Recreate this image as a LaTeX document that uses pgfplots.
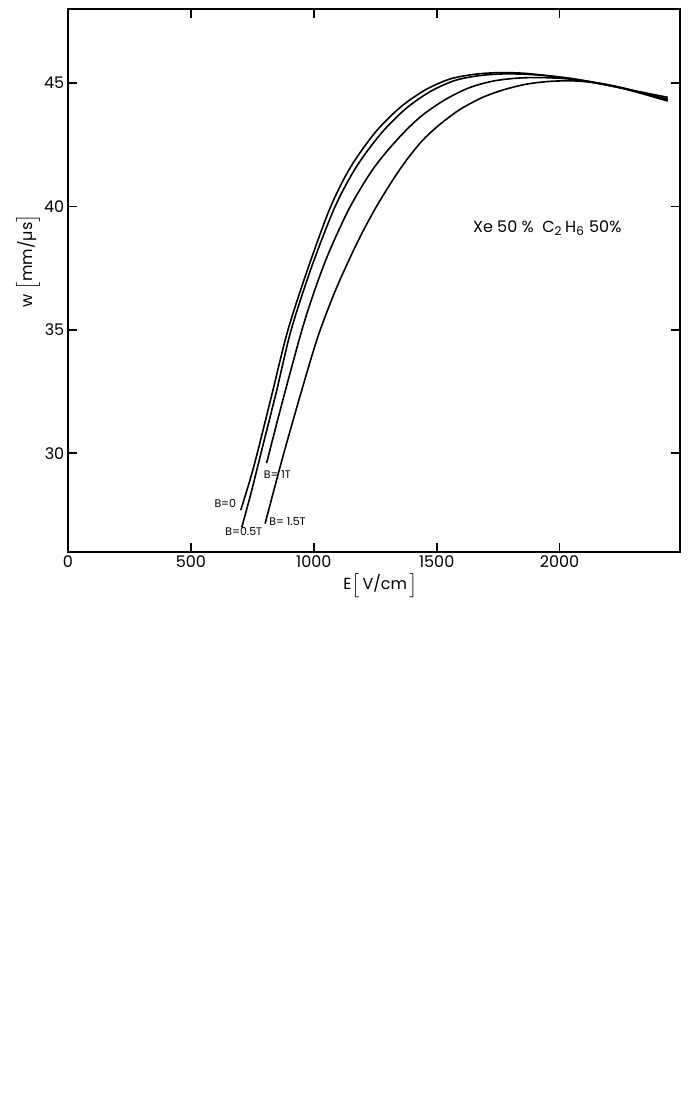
\documentclass[border=0pt]{standalone}
\usepackage{fontspec}
\setmainfont{Poppins}
\usepackage{pgfplots}
\pgfplotsset{compat=1.18}
\begin{document}
\fontsize{8}{9.6}\selectfont%
\begin{tikzpicture}
\useasboundingbox (0pt,0pt) rectangle (343.5pt,554.5pt);
\begin{axis}[
 at={(34pt,278.5pt)}, anchor=south west,
 scale only axis, width=306pt, height=271.5pt,
 xmin=0, xmax=2490, ymin=26, ymax=48,
 xtick={0,500,1000,1500,2000}, ytick={30,35,40,45},
 tick align=inside, major tick length=4.5pt,
 axis line style={line width=1pt}, tick style={line width=0.9pt, black},
 /pgf/number format/assume math mode=true,
 /pgf/number format/1000 sep={},
 ticklabel style={font=\fontsize{8}{9.6}\selectfont},
 xticklabel style={yshift=1pt},
 yticklabel style={xshift=1pt},
 xlabel={E$\big[$\,V/cm\,$\big]$},
 ylabel={w $\big[$mm/µs$\big]$},
 xlabel style={at={(axis description cs:0.511,-0.061)},anchor=center},
 ylabel style={at={(axis description cs:-0.066,0.536)},anchor=center},
 cycle list={{black}},
 every axis plot/.append style={line width=0.8pt, smooth, mark=none},
]
% B = 0
\addplot coordinates {(703,27.7) (740,28.9) (770,30.0) (830,32.4) (895,35.0) (980,37.6) (1069,40.0) (1150,41.6) (1250,43.0) (1350,44.0) (1450,44.7) (1550,45.15) (1650,45.35) (1750,45.42) (1850,45.4) (1950,45.3) (2050,45.18) (2150,45.0) (2250,44.8) (2350,44.6) (2440,44.42)};
% B = 0.5 T
\addplot coordinates {(707,27.0) (745,28.4) (785,30.0) (848,32.5) (908,35.0) (993,37.6) (1087,40.0) (1173,41.6) (1273,42.95) (1373,43.95) (1473,44.65) (1573,45.1) (1673,45.3) (1773,45.37) (1873,45.35) (1973,45.27) (2073,45.14) (2150,45.0) (2250,44.8) (2350,44.56) (2440,44.35)};
% B = 1 T
\addplot coordinates {(808,29.6) (870,32.0) (949,34.9) (1000,36.5) (1060,38.1) (1146,39.95) (1240,41.5) (1334,42.65) (1430,43.6) (1530,44.3) (1630,44.8) (1730,45.08) (1830,45.2) (1930,45.22) (2030,45.17) (2130,45.05) (2250,44.82) (2350,44.56) (2440,44.32)};
% B = 1.5 T
\addplot coordinates {(802,27.15) (878,30.0) (967,33.1) (1021,34.85) (1080,36.4) (1128,37.5) (1190,38.8) (1254,39.98) (1320,41.05) (1379,41.9) (1440,42.65) (1504,43.25) (1590,43.9) (1683,44.4) (1770,44.72) (1863,44.95) (1950,45.06) (2030,45.09) (2100,45.06) (2200,44.92) (2300,44.67) (2440,44.27)};
\node[font=\fontsize{8}{9.6}\selectfont] at (axis cs:1950,39.13) {Xe 50 \%\ \ C\textsubscript{2}\,H\textsubscript{6} 50\%};
\node[font=\fontsize{5.5}{6.5}\selectfont] at (axis cs:640,27.95) {B=0};
\node[font=\fontsize{5.5}{6.5}\selectfont] at (axis cs:715,26.83) {B=0.5T};
\node[font=\fontsize{5.5}{6.5}\selectfont] at (axis cs:852,29.15) {B=\ 1T};
\node[font=\fontsize{5.5}{6.5}\selectfont] at (axis cs:893,27.24) {B=\ 1.5T};
\end{axis}
\end{tikzpicture}%
\end{document}
